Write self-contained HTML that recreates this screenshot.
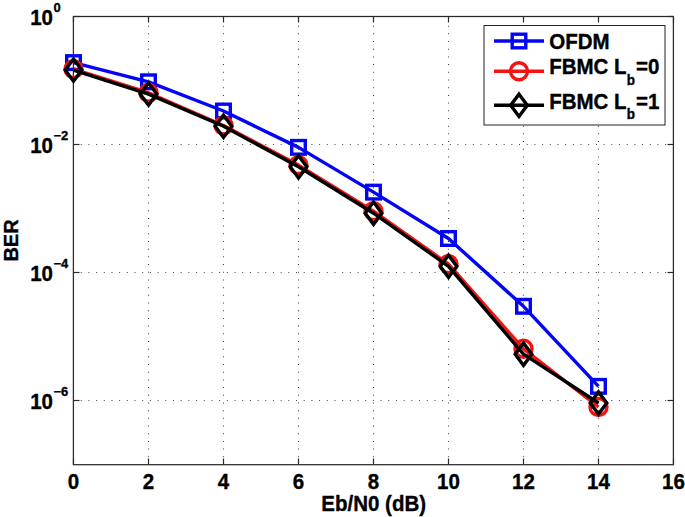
<!DOCTYPE html><html><head><meta charset="utf-8"><style>html,body{margin:0;padding:0;background:#fff;}svg{display:block;}text{font-family:"Liberation Sans",sans-serif;font-weight:bold;fill:#000;stroke:#000;stroke-width:0.35px;}</style></head><body>
<svg width="685" height="517" viewBox="0 0 685 517">
<rect x="0" y="0" width="685" height="517" fill="#fff"/>
<line x1="148.5" y1="465.0" x2="148.5" y2="16.5" stroke="#444" stroke-width="1.1" stroke-dasharray="1 6.69"/>
<line x1="223.5" y1="465.0" x2="223.5" y2="16.5" stroke="#444" stroke-width="1.1" stroke-dasharray="1 6.69"/>
<line x1="298.5" y1="465.0" x2="298.5" y2="16.5" stroke="#444" stroke-width="1.1" stroke-dasharray="1 6.69"/>
<line x1="373.5" y1="465.0" x2="373.5" y2="16.5" stroke="#444" stroke-width="1.1" stroke-dasharray="1 6.69"/>
<line x1="448.5" y1="465.0" x2="448.5" y2="16.5" stroke="#444" stroke-width="1.1" stroke-dasharray="1 6.69"/>
<line x1="523.5" y1="465.0" x2="523.5" y2="16.5" stroke="#444" stroke-width="1.1" stroke-dasharray="1 6.69"/>
<line x1="598.5" y1="465.0" x2="598.5" y2="16.5" stroke="#444" stroke-width="1.1" stroke-dasharray="1 6.69"/>
<line x1="73.0" y1="144.5" x2="673.5" y2="144.5" stroke="#444" stroke-width="1.1" stroke-dasharray="1 6.69"/>
<line x1="73.0" y1="272.5" x2="673.5" y2="272.5" stroke="#444" stroke-width="1.1" stroke-dasharray="1 6.69"/>
<line x1="73.0" y1="400.5" x2="673.5" y2="400.5" stroke="#444" stroke-width="1.1" stroke-dasharray="1 6.69"/>
<line x1="73.5" y1="464.5" x2="73.5" y2="458.5" stroke="#2a2a2a" stroke-width="1.2"/>
<line x1="73.5" y1="16.5" x2="73.5" y2="22.5" stroke="#2a2a2a" stroke-width="1.2"/>
<line x1="148.5" y1="464.5" x2="148.5" y2="458.5" stroke="#2a2a2a" stroke-width="1.2"/>
<line x1="148.5" y1="16.5" x2="148.5" y2="22.5" stroke="#2a2a2a" stroke-width="1.2"/>
<line x1="223.5" y1="464.5" x2="223.5" y2="458.5" stroke="#2a2a2a" stroke-width="1.2"/>
<line x1="223.5" y1="16.5" x2="223.5" y2="22.5" stroke="#2a2a2a" stroke-width="1.2"/>
<line x1="298.5" y1="464.5" x2="298.5" y2="458.5" stroke="#2a2a2a" stroke-width="1.2"/>
<line x1="298.5" y1="16.5" x2="298.5" y2="22.5" stroke="#2a2a2a" stroke-width="1.2"/>
<line x1="373.5" y1="464.5" x2="373.5" y2="458.5" stroke="#2a2a2a" stroke-width="1.2"/>
<line x1="373.5" y1="16.5" x2="373.5" y2="22.5" stroke="#2a2a2a" stroke-width="1.2"/>
<line x1="448.5" y1="464.5" x2="448.5" y2="458.5" stroke="#2a2a2a" stroke-width="1.2"/>
<line x1="448.5" y1="16.5" x2="448.5" y2="22.5" stroke="#2a2a2a" stroke-width="1.2"/>
<line x1="523.5" y1="464.5" x2="523.5" y2="458.5" stroke="#2a2a2a" stroke-width="1.2"/>
<line x1="523.5" y1="16.5" x2="523.5" y2="22.5" stroke="#2a2a2a" stroke-width="1.2"/>
<line x1="598.5" y1="464.5" x2="598.5" y2="458.5" stroke="#2a2a2a" stroke-width="1.2"/>
<line x1="598.5" y1="16.5" x2="598.5" y2="22.5" stroke="#2a2a2a" stroke-width="1.2"/>
<line x1="673.5" y1="464.5" x2="673.5" y2="458.5" stroke="#2a2a2a" stroke-width="1.2"/>
<line x1="673.5" y1="16.5" x2="673.5" y2="22.5" stroke="#2a2a2a" stroke-width="1.2"/>
<line x1="73.5" y1="16.5" x2="79.5" y2="16.5" stroke="#2a2a2a" stroke-width="1.2"/>
<line x1="673.5" y1="16.5" x2="667.5" y2="16.5" stroke="#2a2a2a" stroke-width="1.2"/>
<line x1="73.5" y1="144.5" x2="79.5" y2="144.5" stroke="#2a2a2a" stroke-width="1.2"/>
<line x1="673.5" y1="144.5" x2="667.5" y2="144.5" stroke="#2a2a2a" stroke-width="1.2"/>
<line x1="73.5" y1="272.5" x2="79.5" y2="272.5" stroke="#2a2a2a" stroke-width="1.2"/>
<line x1="673.5" y1="272.5" x2="667.5" y2="272.5" stroke="#2a2a2a" stroke-width="1.2"/>
<line x1="73.5" y1="400.5" x2="79.5" y2="400.5" stroke="#2a2a2a" stroke-width="1.2"/>
<line x1="673.5" y1="400.5" x2="667.5" y2="400.5" stroke="#2a2a2a" stroke-width="1.2"/>
<rect x="73.4" y="16.5" width="600.0" height="448.2" fill="none" stroke="#2a2a2a" stroke-width="1.25"/>
<text transform="translate(73.5,489.3) scale(1,1.05)" font-size="20.5" text-anchor="middle">0</text>
<text transform="translate(148.5,489.3) scale(1,1.05)" font-size="20.5" text-anchor="middle">2</text>
<text transform="translate(223.5,489.3) scale(1,1.05)" font-size="20.5" text-anchor="middle">4</text>
<text transform="translate(298.5,489.3) scale(1,1.05)" font-size="20.5" text-anchor="middle">6</text>
<text transform="translate(373.5,489.3) scale(1,1.05)" font-size="20.5" text-anchor="middle">8</text>
<text transform="translate(448.5,489.3) scale(1,1.05)" font-size="20.5" text-anchor="middle">10</text>
<text transform="translate(523.5,489.3) scale(1,1.05)" font-size="20.5" text-anchor="middle">12</text>
<text transform="translate(598.5,489.3) scale(1,1.05)" font-size="20.5" text-anchor="middle">14</text>
<text transform="translate(673.5,489.3) scale(1,1.05)" font-size="20.5" text-anchor="middle">16</text>
<text transform="translate(53.0,24.7) scale(1,1.05)" font-size="20.5" text-anchor="end">10</text>
<text transform="translate(53.5,11.7) scale(1,0.97)" font-size="13">0</text>
<text transform="translate(53.0,152.7) scale(1,1.05)" font-size="20.5" text-anchor="end">10</text>
<text transform="translate(53.5,139.7) scale(1,0.97)" font-size="13">−2</text>
<text transform="translate(53.0,280.7) scale(1,1.05)" font-size="20.5" text-anchor="end">10</text>
<text transform="translate(53.5,267.7) scale(1,0.97)" font-size="13">−4</text>
<text transform="translate(53.0,408.7) scale(1,1.05)" font-size="20.5" text-anchor="end">10</text>
<text transform="translate(53.5,395.7) scale(1,0.97)" font-size="13">−6</text>
<text transform="translate(373.7,511) scale(1,1.045)" font-size="20.5" text-anchor="middle">Eb/N0 (dB)</text>
<text transform="translate(17.6,240.5) rotate(-90) scale(1,1.045)" x="0" y="0" font-size="20" text-anchor="middle">BER</text>
<polyline points="73.50,62.60 148.50,81.80 223.50,111.00 298.50,147.35 373.50,192.15 448.50,238.50 523.50,306.30 598.50,386.35" fill="none" stroke="#0404f4" stroke-width="3.4" stroke-linejoin="round" stroke-linecap="butt"/>
<rect x="66.70" y="55.80" width="13.6" height="13.6" fill="none" stroke="#0404f4" stroke-width="3.4"/>
<rect x="141.70" y="75.00" width="13.6" height="13.6" fill="none" stroke="#0404f4" stroke-width="3.4"/>
<rect x="216.70" y="104.20" width="13.6" height="13.6" fill="none" stroke="#0404f4" stroke-width="3.4"/>
<rect x="291.70" y="140.55" width="13.6" height="13.6" fill="none" stroke="#0404f4" stroke-width="3.4"/>
<rect x="366.70" y="185.35" width="13.6" height="13.6" fill="none" stroke="#0404f4" stroke-width="3.4"/>
<rect x="441.70" y="231.70" width="13.6" height="13.6" fill="none" stroke="#0404f4" stroke-width="3.4"/>
<rect x="516.70" y="299.50" width="13.6" height="13.6" fill="none" stroke="#0404f4" stroke-width="3.4"/>
<rect x="591.70" y="379.55" width="13.6" height="13.6" fill="none" stroke="#0404f4" stroke-width="3.4"/>
<polyline points="73.50,69.10 148.50,92.70 223.50,125.50 298.50,165.10 373.50,211.10 448.50,264.10 523.50,348.80 598.50,407.00" fill="none" stroke="#f01414" stroke-width="3.4" stroke-linejoin="round" stroke-linecap="butt"/>
<circle cx="73.50" cy="69.10" r="8.5" fill="none" stroke="#f01414" stroke-width="3.4"/>
<circle cx="148.50" cy="92.70" r="8.5" fill="none" stroke="#f01414" stroke-width="3.4"/>
<circle cx="223.50" cy="125.50" r="8.5" fill="none" stroke="#f01414" stroke-width="3.4"/>
<circle cx="298.50" cy="165.10" r="8.5" fill="none" stroke="#f01414" stroke-width="3.4"/>
<circle cx="373.50" cy="211.10" r="8.5" fill="none" stroke="#f01414" stroke-width="3.4"/>
<circle cx="448.50" cy="264.10" r="8.5" fill="none" stroke="#f01414" stroke-width="3.4"/>
<circle cx="523.50" cy="348.80" r="8.5" fill="none" stroke="#f01414" stroke-width="3.4"/>
<circle cx="598.50" cy="407.00" r="8.5" fill="none" stroke="#f01414" stroke-width="3.4"/>
<polyline points="73.50,70.10 148.50,94.10 223.50,126.30 298.50,166.80 373.50,213.20 448.50,266.30 523.50,354.20 598.50,403.00" fill="none" stroke="#000000" stroke-width="3.4" stroke-linejoin="round" stroke-linecap="butt"/>
<path d="M73.50,59.00 L81.80,70.10 L73.50,81.20 L65.20,70.10 Z" fill="none" stroke="#000000" stroke-width="3.4" stroke-linejoin="miter" stroke-miterlimit="10"/>
<path d="M148.50,83.00 L156.80,94.10 L148.50,105.20 L140.20,94.10 Z" fill="none" stroke="#000000" stroke-width="3.4" stroke-linejoin="miter" stroke-miterlimit="10"/>
<path d="M223.50,115.20 L231.80,126.30 L223.50,137.40 L215.20,126.30 Z" fill="none" stroke="#000000" stroke-width="3.4" stroke-linejoin="miter" stroke-miterlimit="10"/>
<path d="M298.50,155.70 L306.80,166.80 L298.50,177.90 L290.20,166.80 Z" fill="none" stroke="#000000" stroke-width="3.4" stroke-linejoin="miter" stroke-miterlimit="10"/>
<path d="M373.50,202.10 L381.80,213.20 L373.50,224.30 L365.20,213.20 Z" fill="none" stroke="#000000" stroke-width="3.4" stroke-linejoin="miter" stroke-miterlimit="10"/>
<path d="M448.50,255.20 L456.80,266.30 L448.50,277.40 L440.20,266.30 Z" fill="none" stroke="#000000" stroke-width="3.4" stroke-linejoin="miter" stroke-miterlimit="10"/>
<path d="M523.50,343.10 L531.80,354.20 L523.50,365.30 L515.20,354.20 Z" fill="none" stroke="#000000" stroke-width="3.4" stroke-linejoin="miter" stroke-miterlimit="10"/>
<path d="M598.50,391.90 L606.80,403.00 L598.50,414.10 L590.20,403.00 Z" fill="none" stroke="#000000" stroke-width="3.4" stroke-linejoin="miter" stroke-miterlimit="10"/>
<rect x="484" y="25.5" width="181" height="99.5" fill="#fff" stroke="#222" stroke-width="1"/>
<line x1="494" y1="41" x2="544" y2="41" stroke="#0404f4" stroke-width="3.4"/>
<rect x="512.20" y="34.20" width="13.6" height="13.6" fill="none" stroke="#0404f4" stroke-width="3.4"/>
<text transform="translate(549.2,48.8) scale(1,1.045)" font-size="20.5">OFDM</text>
<line x1="494" y1="71.2" x2="544" y2="71.2" stroke="#f01414" stroke-width="3.4"/>
<circle cx="519.00" cy="71.20" r="8.5" fill="none" stroke="#f01414" stroke-width="3.4"/>
<text transform="translate(549.2,74.2) scale(1,1.045)" font-size="20.5">FBMC L<tspan font-size="13.5" dx="0.3" dy="10">b</tspan><tspan dx="0.8" dy="-10" font-size="20.5">=0</tspan></text>
<line x1="494" y1="105.3" x2="544" y2="105.3" stroke="#000000" stroke-width="3.4"/>
<path d="M519.00,94.20 L527.30,105.30 L519.00,116.40 L510.70,105.30 Z" fill="none" stroke="#000000" stroke-width="3.4" stroke-linejoin="miter" stroke-miterlimit="10"/>
<text transform="translate(549.2,108.5) scale(1,1.045)" font-size="20.5">FBMC L<tspan font-size="13.5" dx="0.3" dy="10">b</tspan><tspan dx="0.8" dy="-10" font-size="20.5">=1</tspan></text>
</svg></body></html>
